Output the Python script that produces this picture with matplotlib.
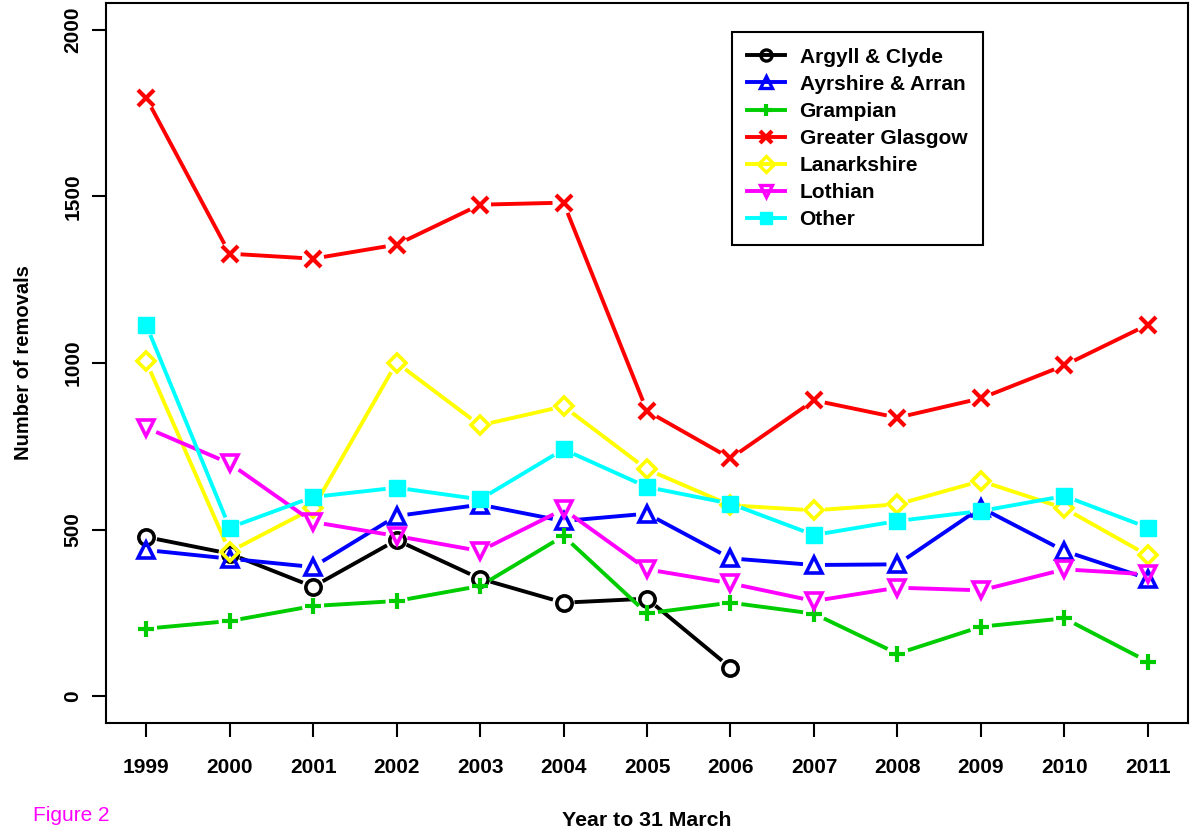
import numpy as np
import matplotlib
matplotlib.use("Agg")
import matplotlib.pyplot as plt
from matplotlib.lines import Line2D

plt.rcParams['font.family'] = ['Liberation Sans', 'DejaVu Sans']

years = list(range(1999, 2012))

argyll = [478, 428, 329, 469, 353, 281, 293, 86]
ayrshire = [439, 413, 388, 541, 575, 526, 548, 414, 394, 396, 566, 436, 353]
grampian = [203, 226, 271, 286, 331, 481, 249, 281, 248, 128, 209, 234, 104]
glasgow = [1796, 1328, 1313, 1355, 1475, 1481, 856, 714, 888, 836, 894, 993, 1115]
lanark = [1005, 434, 564, 1001, 813, 870, 681, 573, 558, 576, 646, 564, 423]
lothian = [806, 699, 523, 481, 436, 561, 381, 339, 286, 326, 318, 381, 366]
other = [1115, 506, 598, 626, 591, 741, 628, 578, 484, 526, 556, 601, 506]

series = [
    ("Argyll & Clyde", argyll, "black", "o"),
    ("Ayrshire & Arran", ayrshire, "#0000ff", "^"),
    ("Grampian", grampian, "#00cd00", "+"),
    ("Greater Glasgow", glasgow, "#ff0000", "x"),
    ("Lanarkshire", lanark, "#ffff00", "D"),
    ("Lothian", lothian, "#ff00ff", "v"),
    ("Other", other, "#00ffff", "s"),
]

fig = plt.figure(figsize=(11.9, 8.32), dpi=100)
ax = fig.add_axes([0.0891, 0.131, 0.9092, 0.8654])
ax.set_xlim(1998.52, 2011.48)
ax.set_ylim(-80, 2080)

LW = 2.8
GAP = 11  # pixels of gap around each point (R type="b")

fig.canvas.draw()
trans = ax.transData
inv = trans.inverted()

for name, vals, col, mk in series:
    xs = years[:len(vals)]
    pts = trans.transform(np.column_stack([xs, vals]))
    for p0, p1 in zip(pts[:-1], pts[1:]):
        d = p1 - p0
        L = np.hypot(*d)
        if L <= 2 * GAP:
            continue
        u = d / L
        a = inv.transform(p0 + u * GAP)
        b = inv.transform(p1 - u * GAP)
        ax.plot([a[0], b[0]], [a[1], b[1]], color=col, lw=LW,
                solid_capstyle='butt')
    if mk == "s":
        ax.plot(xs, vals, ls='none', marker=mk, ms=11, color=col, mec=col)
    elif mk in ("+", "x"):
        ax.plot(xs, vals, ls='none', marker=mk, ms=11, color=col, mew=3)
    else:
        ms = 9 if mk == "D" else 11
        ax.plot(xs, vals, ls='none', marker=mk, ms=ms, mfc='none',
                mec=col, mew=2.6)

ax.set_xticks(years)
ax.set_xticklabels([str(y) for y in years], fontsize=15, fontweight='bold')
ax.set_yticks([0, 500, 1000, 1500, 2000])
ax.set_yticklabels(["0", "500", "1000", "1500", "2000"], fontsize=15,
                   fontweight='bold', rotation=90, va='center')
ax.tick_params(axis='x', length=10, width=1.5, pad=15)
ax.tick_params(axis='y', length=10, width=1.5, pad=7)
for s in ax.spines.values():
    s.set_linewidth(1.5)

ax.set_xlabel("Year to 31 March", fontsize=15.3, fontweight='bold', labelpad=25)
ax.set_ylabel("Number of removals", fontsize=14.5, fontweight='bold', labelpad=22)

handles = []
for name, vals, col, mk in series:
    if mk == "s":
        h = Line2D([], [], color=col, lw=LW, marker=mk, ms=9, mec=col)
    elif mk in ("+", "x"):
        h = Line2D([], [], color=col, lw=LW, marker=mk, ms=9, mew=3)
    else:
        h = Line2D([], [], color=col, lw=LW, marker=mk, ms=8, mfc='none',
                   mec=col, mew=2.4)
    handles.append(h)

leg = ax.legend(handles, [s[0] for s in series], loc='upper left',
                bbox_to_anchor=(0.615, 0.9615), bbox_transform=fig.transFigure,
                fancybox=False, edgecolor='black', framealpha=1,
                prop={'size': 15, 'weight': 'bold'}, handlelength=1.8,
                labelspacing=0.39, borderpad=0.75, handletextpad=0.7,
                borderaxespad=0)
leg.get_frame().set_linewidth(1.5)

fig.text(0.028, 0.013, "Figure 2", color='#ff00ff', fontsize=15)

fig.savefig("out.png", dpi=100)
